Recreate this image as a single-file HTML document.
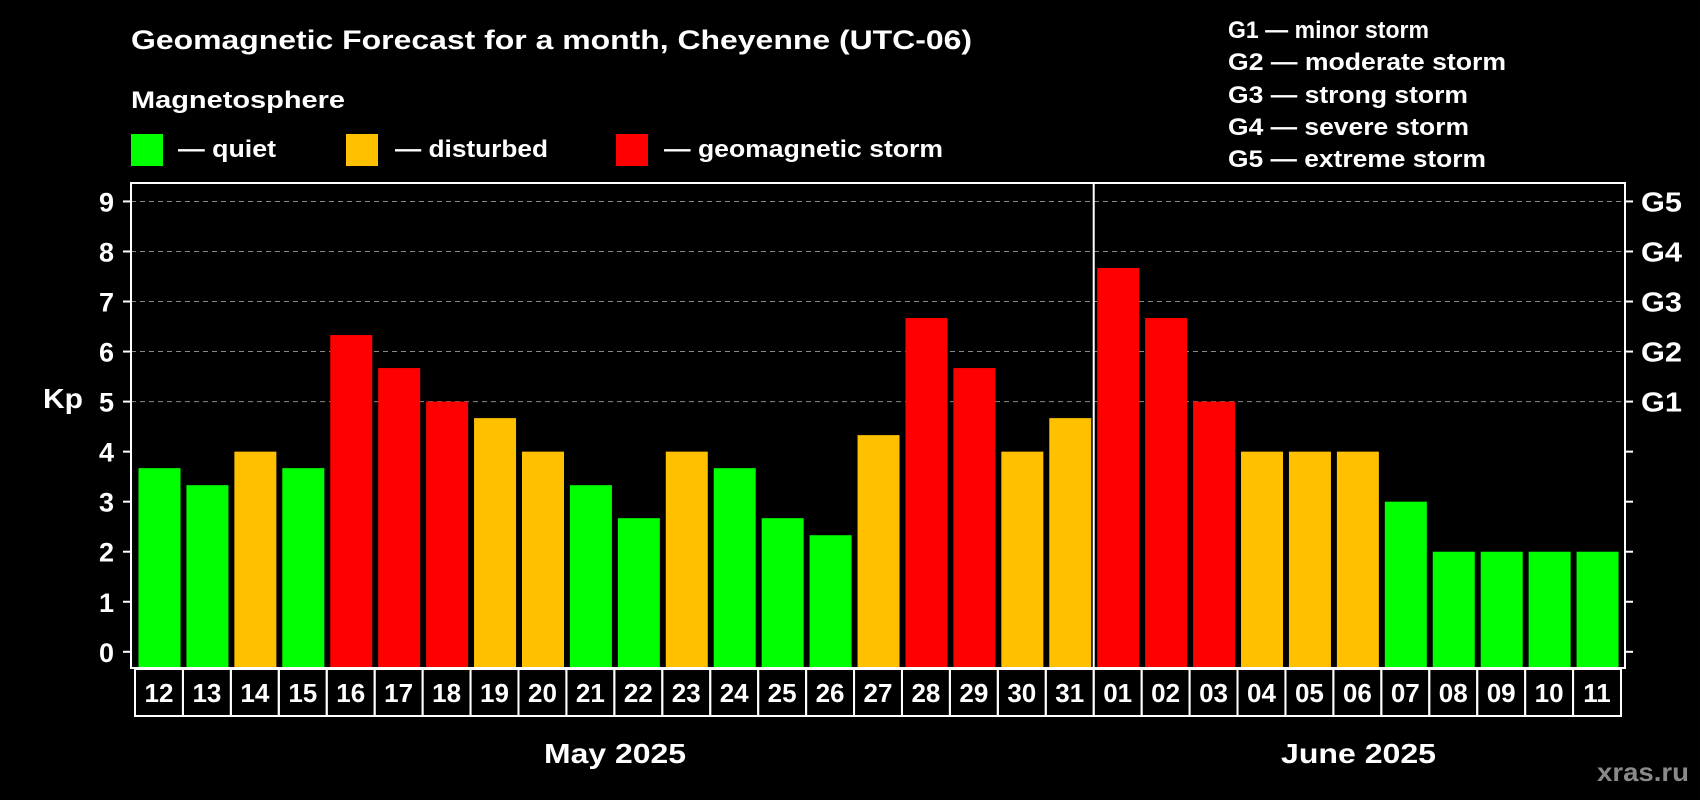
<!DOCTYPE html>
<html><head><meta charset="utf-8">
<style>
html,body{margin:0;padding:0;background:#000;}
svg{display:block;font-family:"Liberation Sans",Arial,sans-serif;font-weight:bold;}
</style></head>
<body>
<svg id="chart" width="1700" height="800" viewBox="0 0 1700 800" xmlns="http://www.w3.org/2000/svg">
<rect x="0" y="0" width="1700" height="800" fill="#000"/>
<text x="131" y="49" fill="#fff" font-size="27" textLength="841" lengthAdjust="spacingAndGlyphs">Geomagnetic Forecast for a month, Cheyenne (UTC-06)</text>
<text x="131" y="108" fill="#fff" font-size="24" textLength="214" lengthAdjust="spacingAndGlyphs">Magnetosphere</text>
<g>
<rect x="131" y="134" width="32" height="32" fill="#00ff00"/>
<text x="178" y="157" fill="#fff" font-size="24" textLength="98" lengthAdjust="spacingAndGlyphs">— quiet</text></g>
<g>
<rect x="346" y="134" width="32" height="32" fill="#ffc000"/>
<text x="395" y="157" fill="#fff" font-size="24" textLength="153" lengthAdjust="spacingAndGlyphs">— disturbed</text></g>
<g>
<rect x="616" y="134" width="32" height="32" fill="#ff0000"/>
<text x="664" y="157" fill="#fff" font-size="24" textLength="279" lengthAdjust="spacingAndGlyphs">— geomagnetic storm</text></g>
<g fill="#fff" font-size="24" lengthAdjust="spacingAndGlyphs">
<text x="1228" y="38" textLength="201" lengthAdjust="spacingAndGlyphs">G1 — minor storm</text>
<text x="1228" y="70" textLength="278" lengthAdjust="spacingAndGlyphs">G2 — moderate storm</text>
<text x="1228" y="103" textLength="240" lengthAdjust="spacingAndGlyphs">G3 — strong storm</text>
<text x="1228" y="135" textLength="241" lengthAdjust="spacingAndGlyphs">G4 — severe storm</text>
<text x="1228" y="167" textLength="258" lengthAdjust="spacingAndGlyphs">G5 — extreme storm</text>
</g>
<g id="grid"></g>
<g id="bars"></g>
<g id="axes"></g>
<text x="43" y="408" fill="#fff" font-size="28" textLength="40" lengthAdjust="spacingAndGlyphs">Kp</text>
<text x="544" y="763" fill="#fff" font-size="28" textLength="142" lengthAdjust="spacingAndGlyphs">May 2025</text>
<text x="1281" y="763" fill="#fff" font-size="28" textLength="155" lengthAdjust="spacingAndGlyphs">June 2025</text>
<text x="1597" y="781" fill="#8a8a8a" font-size="26" textLength="92" lengthAdjust="spacingAndGlyphs">xras.ru</text>
</svg>
<script>
const days = ["12","13","14","15","16","17","18","19","20","21","22","23","24","25","26","27","28","29","30","31","01","02","03","04","05","06","07","08","09","10","11"];
const kpValues = [3.67,3.33,4,3.67,6.33,5.67,5,4.67,4,3.33,2.67,4,3.67,2.67,2.33,4.33,6.67,5.67,4,4.67,7.67,6.67,5,4,4,4,3,2,2,2,2];
const yTicks = [0,1,2,3,4,5,6,7,8,9];
const gLabels = ["G1","G2","G3","G4","G5"];
const gLevels = [5,6,7,8,9];
const monthSplit = 20;

const NS="http://www.w3.org/2000/svg";
const L=131,R=1625,T=183,B=668, y0=651.8, unit=50.04;
const slotStart=135, pitch=(R-4-slotStart)/days.length, bw=42;
function ys(v){return y0-v*unit;}
function xs(i){return slotStart+i*pitch;}
function mk(tag,attrs,parent){const e=document.createElementNS(NS,tag);for(const k in attrs)e.setAttribute(k,attrs[k]);parent.appendChild(e);return e;}
const grid=document.getElementById('grid'),bars=document.getElementById('bars'),axes=document.getElementById('axes');
gLevels.forEach(v=>{
  const l=mk('line',{x1:L,x2:R,y1:ys(v),y2:ys(v),stroke:'#8a8a8a','stroke-width':1,'stroke-dasharray':'5,4'},grid);
  
  
});
kpValues.forEach((v,i)=>{
  const c=v>=5?'#ff0000':(v>=4?'#ffc000':'#00ff00');
  const r=mk('rect',{x:xs(i)+3.5,y:ys(v),width:bw,height:B-ys(v),fill:c},bars);
  
  
});
const fr=mk('rect',{x:L,y:T,width:R-L,height:B-T,fill:'none',stroke:'#fff','stroke-width':2},axes);


const dv=mk('line',{x1:xs(monthSplit),x2:xs(monthSplit),y1:T,y2:B,stroke:'#fff','stroke-width':2},axes);


yTicks.forEach(v=>{
  mk('line',{x1:L-8,x2:L,y1:ys(v),y2:ys(v),stroke:'#fff','stroke-width':2},axes);
  mk('line',{x1:R,x2:R+8,y1:ys(v),y2:ys(v),stroke:'#fff','stroke-width':2},axes);
  const t=mk('text',{x:114,y:ys(v)+10,fill:'#fff','font-size':27,'text-anchor':'end'},axes);
  t.textContent=v;
  
  
});
gLevels.forEach((v,i)=>{
  const t=mk('text',{x:1641,y:ys(v)+10,fill:'#fff','font-size':28,textLength:41,lengthAdjust:'spacingAndGlyphs'},axes);
  t.textContent=gLabels[i];
  
  
});
days.forEach((d,i)=>{
  const b=mk('rect',{x:xs(i),y:669,width:pitch,height:47,fill:'none',stroke:'#fff','stroke-width':2},axes);
  
  
  const t=mk('text',{x:xs(i)+pitch/2,y:702,fill:'#fff','font-size':26,'text-anchor':'middle'},axes);
  t.textContent=d;
  
  
});
</script>
</body></html>
